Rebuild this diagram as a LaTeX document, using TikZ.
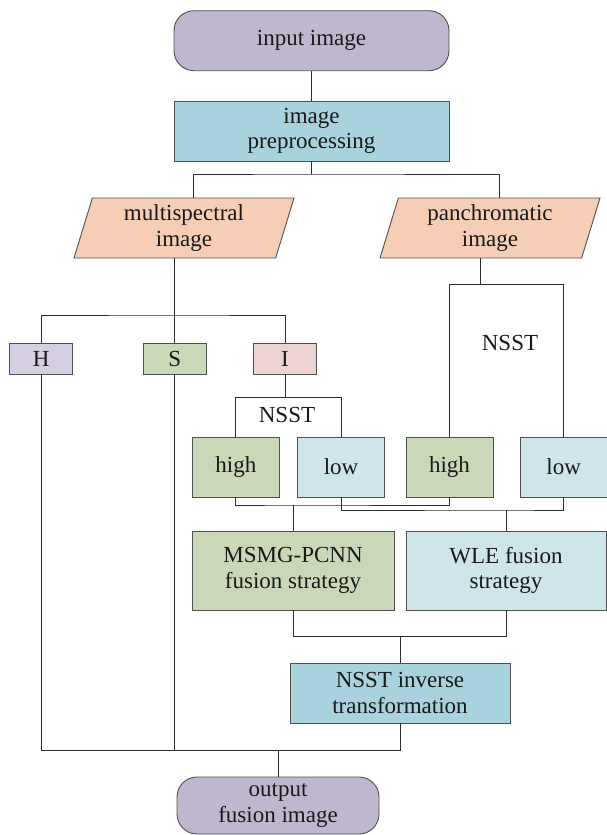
\documentclass[tikz,border=0pt]{standalone}
\usepackage{fontspec}
\setmainfont{Liberation Serif}
\usetikzlibrary{shapes.geometric}
\definecolor{boxgray}{RGB}{80,80,80}
\definecolor{linegray}{RGB}{45,45,45}
\definecolor{termcolor}{RGB}{191,183,207}
\definecolor{proccolor}{RGB}{167,210,222}
\definecolor{peach}{RGB}{246,206,181}
\definecolor{hcolor}{RGB}{214,207,225}
\definecolor{sage}{RGB}{203,216,184}
\definecolor{pink}{RGB}{238,211,212}
\definecolor{lowcolor}{RGB}{206,229,234}
\newcommand{\boxfont}{\fontsize{23}{25.5}\selectfont}
\tikzstyle{boxbase}=[draw=boxgray, line width=0.9pt, inner sep=2pt, align=center, text=black!90, font=\boxfont]
\tikzstyle{terminal}=[boxbase, rectangle, rounded corners=20pt, fill=termcolor]
\tikzstyle{procbox}=[boxbase, rectangle]
\tikzstyle{imagebox}=[boxbase, trapezium, trapezium left angle=70, trapezium right angle=110, trapezium stretches body, fill=peach, minimum width=220pt, minimum height=60pt]
\tikzstyle{channel}=[boxbase, rectangle, minimum width=63pt, minimum height=31pt]
\tikzstyle{band}=[boxbase, rectangle, minimum width=87pt, minimum height=60pt]
\tikzstyle{link}=[draw=linegray, line width=0.9pt]
\tikzstyle{plainlabel}=[inner sep=0pt, text=black!90, font=\boxfont]

\begin{document}
\begin{tikzpicture}[x=1pt, y=-1pt]
\useasboundingbox (0,0) rectangle (606,835);
% top part
\node[terminal, minimum width=275pt, minimum height=60pt] (input) at (311.5,40.7) {input image};
\node[procbox, fill=proccolor, minimum width=275pt, minimum height=60pt] (prep) at (311.5,131) {image\\preprocessing};
\node[imagebox] (ms) at (184,228) {multispectral\\image};
\node[imagebox] (pan) at (490,228) {panchromatic\\image};
\coordinate (split) at (311.5,174);
\draw[link] (input) -- (prep);
\draw[link] (prep) -- (split);
\draw[link] (ms.top side) |- (split) -| (pan.top side);
% HSI channels
\coordinate (hsi) at (ms.bottom side |- 0,315);
\node[channel, fill=hcolor] (H) at (41.2,358.5) {H};
\node[channel, fill=sage] (S) at (hsi |- 0,358.5) {S};
\node[channel, fill=pink] (I) at (285,358.5) {I};
\draw[link] (ms.bottom side) -- (hsi);
\draw[link] (H.north) |- (hsi) -| (I.north);
\draw[link] (hsi) -- (S.north);
% NSST decompositions
\node[band, fill=sage] (high1) at (235.8,467) {high};
\node[band, fill=lowcolor] (low1) at (341,467) {low};
\node[band, fill=sage] (high2) at (449.5,467) {high};
\node[band, fill=lowcolor] (low2) at (563.6,467) {low};
\coordinate (isplit) at (285,397.7);
\coordinate (pansplit) at (pan.bottom side |- 0,284.5);
\draw[link] (I) -- (isplit);
\draw[link] (high1.north) |- (isplit) -| (low1.north);
\draw[link] (pan.bottom side) -- (pansplit);
\draw[link] (high2.north) |- (pansplit) -| (low2.north);
\node[plainlabel] (nsstI) at (287,415) {NSST};
\node[plainlabel] (nsstP) at (510,343) {NSST};
% fusion
\node[procbox, fill=sage, minimum width=202pt, minimum height=79pt] (msmg) at (293,570.5) {MSMG-PCNN\\fusion strategy};
\node[procbox, fill=lowcolor, minimum width=200pt, minimum height=79pt] (wle) at (506,570.5) {WLE fusion\\strategy};
\coordinate (highjoin) at (293,505);
\coordinate (lowjoin) at (506,510);
\draw[link] (high1.south) |- (highjoin) -| (high2.south);
\draw[link] (low1.south) |- (lowjoin) -| (low2.south);
\draw[link] (highjoin) -- (msmg);
\draw[link] (lowjoin) -- (wle);
% inverse and output
\node[procbox, fill=proccolor, minimum width=220pt, minimum height=60pt] (inv) at (400,693) {NSST inverse\\transformation};
\coordinate (fusejoin) at (400,636.7);
\draw[link] (msmg.south) |- (fusejoin) -| (wle.south);
\draw[link] (fusejoin) -- (inv);
\node[terminal, minimum width=202pt, minimum height=57pt] (out) at (278,805.5) {output\\fusion image};
\coordinate (invfoot) at (400,750);
\coordinate (sfoot) at (S.south |- 0,750);
\coordinate (outjoin) at (278,750);
\draw[link] (H.south) |- (invfoot) -- (inv.south);
\draw[link] (S.south) -- (sfoot);
\draw[link] (outjoin) -- (out.north);
\end{tikzpicture}
\end{document}
